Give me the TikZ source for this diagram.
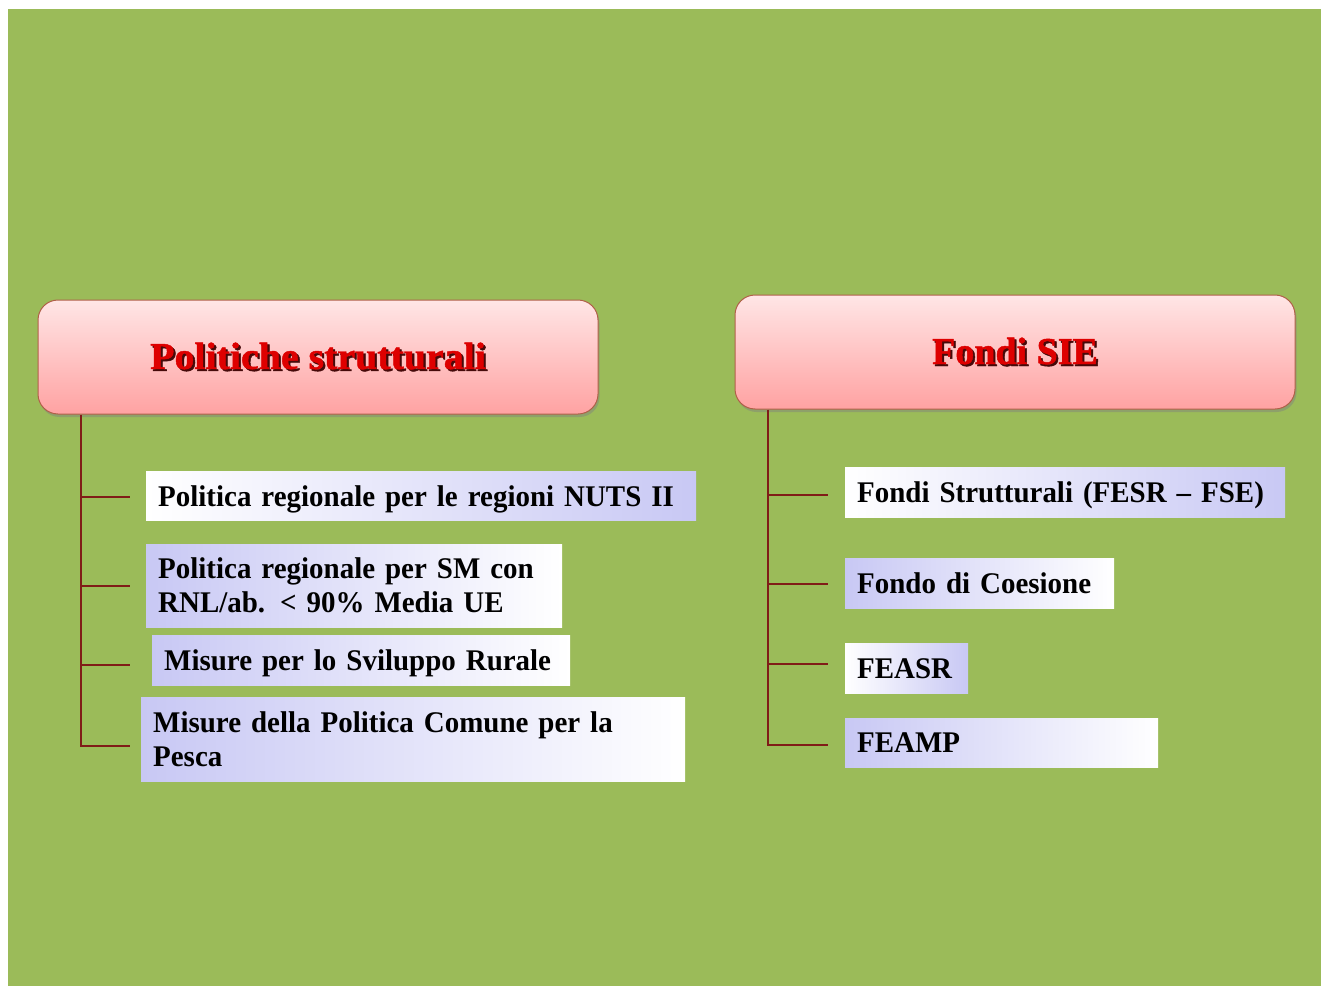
\documentclass[tikz,border=0pt]{standalone}
\usepackage{fontspec}
\setmainfont{Liberation Serif}
\newfontfamily\itemfont[FakeStretch=0.965]{Liberation Serif}
\newfontfamily\titlefont[FakeBold=1.2]{Liberation Serif}
\usetikzlibrary{shadows,calc}
\definecolor{bggreen}{RGB}{155,187,89}
\definecolor{lav}{RGB}{200,200,244}
\definecolor{pinktop}{RGB}{255,230,230}
\definecolor{pinkbot}{RGB}{255,162,162}
\definecolor{hdrborder}{RGB}{176,96,72}
\definecolor{conncol}{RGB}{128,28,24}
\definecolor{titlered}{RGB}{222,0,0}
\definecolor{titleshadow}{RGB}{70,10,10}
\newcommand\shadowtitle[1]{\makebox[0pt][l]{\hspace{2pt}\raisebox{-2pt}{\textcolor{titleshadow}{#1}}}\textcolor{titlered}{#1}}
\tikzset{
  hdr/.style={rounded corners=20pt, draw=hdrborder, line width=1pt,
    top color=pinktop, bottom color=pinkbot,
    minimum width=560pt, minimum height=114pt, inner sep=0pt,
    font=\titlefont\bfseries\fontsize{38}{42}\selectfont,
    drop shadow={shadow xshift=1.5pt, shadow yshift=-3pt, opacity=0.45}},
  item/.style={anchor=north west, inner xsep=12pt, inner ysep=0pt, align=left,
    font=\itemfont\bfseries\fontsize{30}{34}\selectfont, text=black},
  oneline/.style={text depth=0pt},
  lavL/.style={left color=lav, right color=white},
  lavR/.style={left color=white, right color=lav},
  conn/.style={draw=conncol, line width=1.4pt},
}
\begin{document}
\begin{tikzpicture}[x=1pt, y=-1pt]
  \useasboundingbox (0,0) rectangle (1321,987);
  \fill[white] (0,0) rectangle (1321,987);
  \fill[bggreen] (8,9) rectangle (1321,986);

  % headers
  \node[hdr] (h1) at (318,357) {\scalebox{1.05}[1]{\shadowtitle{Politiche strutturali}}};
  \node[hdr] (h2) at (1015,352) {\shadowtitle{Fondi SIE}};

  % left items
  \node[item, oneline, lavR, text width=526pt, minimum height=49pt] (b1) at (146,471) {\mbox{Politica regionale per le regioni NUTS II}};
  \node[item, lavL, text width=392pt, minimum height=83pt] (b2) at (146,544) {\mbox{Politica regionale per SM con}\\\mbox{RNL/ab. < 90\% Media UE}};
  \node[item, oneline, lavL, text width=394pt, minimum height=50pt] (b3) at (152,635) {\mbox{Misure per lo Sviluppo Rurale}};
  \node[item, lavL, text width=520pt, minimum height=84pt] (b4) at (141,697) {\mbox{Misure della Politica Comune per la}\\\mbox{Pesca}};

  % right items
  \node[item, oneline, lavR, text width=416pt, minimum height=50pt] (c1) at (845,467) {\mbox{Fondi Strutturali (FESR – FSE)}};
  \node[item, oneline, lavL, text width=245pt, minimum height=50pt] (c2) at (845,558) {\mbox{Fondo di Coesione}};
  \node[item, oneline, lavR, text width=99pt, minimum height=50pt] (c3) at (845,643) {\mbox{FEASR}};
  \node[item, oneline, lavL, text width=289pt, minimum height=49pt] (c4) at (845,718) {\mbox{FEAMP}};

  % connector coordinates
  \coordinate (lx) at (81,0);
  \coordinate (rx) at (768,0);
  \coordinate (l1) at (130,497);
  \coordinate (l2) at (130,586);
  \coordinate (l3) at (130,665);
  \coordinate (l4) at (130,746);
  \coordinate (r1) at (828,495);
  \coordinate (r2) at (828,584);
  \coordinate (r3) at (828,664);
  \coordinate (r4) at (828,745);

  \draw[conn] (h1.south -| lx) -- ($(l4 -| lx)+(0,1)$);
  \foreach \p in {l1,l2,l3,l4} \draw[conn] (\p -| lx) -- (\p);
  \draw[conn] (h2.south -| rx) -- ($(r4 -| rx)+(0,1)$);
  \foreach \p in {r1,r2,r3,r4} \draw[conn] (\p -| rx) -- (\p);
\end{tikzpicture}
\end{document}
